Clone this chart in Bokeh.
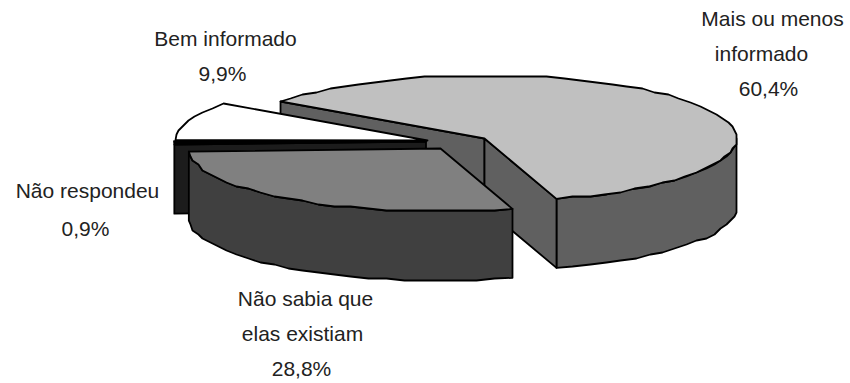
import numpy as np
from bokeh.plotting import figure
from bokeh.models import Range1d
from bokeh.embed import file_html
from bokeh.resources import INLINE
from bokeh.core.properties import value

# Data
categories = ["Mais ou menos informado", "Bem informado", "Não respondeu", "Não sabia que elas existiam"]
shares = [60.4, 9.9, 0.9, 28.8]
tops = ["#c0c0c0", "#ffffff", "#000000", "#808080"]
walls = ["#606060", "#ffffff", "#1c1c1c", "#404040"]

label_lines = ["Mais ou menos", "informado", "60,4%", "Bem informado", "9,9%",
               "Não respondeu", "0,9%", "Não sabia que", "elas existiam", "28,8%"]
label_x = [772, 761, 768, 225, 222, 87, 85, 305, 302, 301]
label_y = [18, 53, 88, 38, 73, 190, 228, 298, 333, 368]

# Projection of the exploded pie (page pixels)
A, B, DEPTH = 252, 63, 69
START = 73.4
centers = [(484, 138), (427, 140), (425.5, 141), (440, 148)]

W, H = 850, 383
p = figure(width=W, height=H, output_backend="svg", toolbar_location=None,
           x_range=Range1d(0, W), y_range=Range1d(H, 0),
           min_border=0, outline_line_color=None)
p.xaxis.visible = False
p.yaxis.visible = False
p.xgrid.visible = False
p.ygrid.visible = False


def arc(c, a0, a1, dz=0, step=4.0, snap=2.0):
    n = max(2, int(abs(a1 - a0) / step) + 1)
    t = np.radians(np.linspace(a0, a1, n))
    x = c[0] + A * np.cos(t)
    y = c[1] + B * np.sin(t) + dz
    x[1:-1] = np.round(x[1:-1] / snap) * snap
    y[1:-1] = np.round(y[1:-1] / snap) * snap
    return x.tolist(), y.tolist()


def poly(xs, ys, fill, lw=1.8):
    p.patch(xs, ys, fill_color=fill, line_color="#000000", line_width=lw, line_join="round")


cur = START + 360 * (1 - shares[0] / 100)
big = (cur, cur + 360 * shares[0] / 100)
white = (cur - 360 * shares[1] / 100, cur)
black = (white[0] - 360 * shares[2] / 100, white[0])
grey = (black[0] - 360 * shares[3] / 100, black[0])
spans = [big, white, black, grey]


def cut_wall(c, ang, wall):
    t = np.radians(ang)
    px, py = c[0] + A * np.cos(t), c[1] + B * np.sin(t)
    poly([c[0], px, px, c[0]], [c[1], py, py + DEPTH, c[1] + DEPTH], wall)


def outer_wall(c, a0, a1, wall):
    x0, y0 = arc(c, a0, a1)
    x1, y1 = arc(c, a0, a1, DEPTH)
    poly(x0 + x1[::-1], y0 + y1[::-1], wall)


def top(c, a0, a1, fill):
    x, y = arc(c, a0, a1)
    poly([c[0]] + x, [c[1]] + y, fill)


c, s, t_, w = centers[0], spans[0], tops[0], walls[0]
cut_wall(c, s[0], w)
outer_wall(c, 360, s[1], w)
cut_wall(c, s[1], w)
top(c, s[0], s[1], t_)

c, s, t_, w = centers[1], spans[1], tops[1], walls[1]
top(c, s[0], s[1], t_)

c, s, t_, w = centers[2], spans[2], tops[2], walls[2]
cut_wall(c, s[0], w)
top(c, s[0], s[1], t_)

c, s, t_, w = centers[3], spans[3], tops[3], walls[3]
outer_wall(c, s[0], s[1], w)
top(c, s[0], s[1], t_)

p.text(label_x, label_y, text=label_lines, text_align="center", text_baseline="middle",
       text_font=value("Liberation Sans"), text_font_size="21px", text_color="#222222")

open("out.html", "w").write(file_html(p, INLINE))
